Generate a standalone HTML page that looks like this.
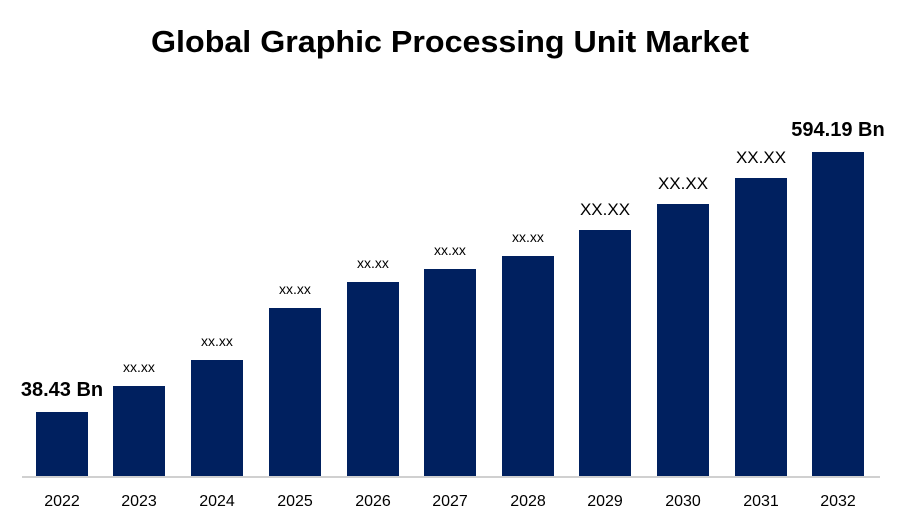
<!DOCTYPE html>
<html><head><meta charset="utf-8"><style>
body{margin:0;background:#fff;}
svg{display:block;font-family:"Liberation Sans",Arial,sans-serif;}
</style></head><body>
<svg width="900" height="525" viewBox="0 0 900 525">
<text x="450" y="52" text-anchor="middle" font-size="31" font-weight="bold" fill="#000" textLength="598" lengthAdjust="spacingAndGlyphs">Global Graphic Processing Unit Market</text>
<line x1="22" y1="477" x2="880" y2="477" stroke="#d0d0d0" stroke-width="2"/>
<g fill="#00205f">
<rect x="36" y="412" width="52" height="64"/>
<rect x="113" y="386" width="52" height="90"/>
<rect x="191" y="360" width="52" height="116"/>
<rect x="269" y="308" width="52" height="168"/>
<rect x="347" y="282" width="52" height="194"/>
<rect x="424" y="269" width="52" height="207"/>
<rect x="502" y="256" width="52" height="220"/>
<rect x="579" y="230" width="52" height="246"/>
<rect x="657" y="204" width="52" height="272"/>
<rect x="735" y="178" width="52" height="298"/>
<rect x="812" y="152" width="52" height="324"/>
</g>
<g font-size="14" text-anchor="middle" fill="#000">
<text x="139" y="372">xx.xx</text>
<text x="217" y="346">xx.xx</text>
<text x="295" y="294">xx.xx</text>
<text x="373" y="268">xx.xx</text>
<text x="450" y="255">xx.xx</text>
<text x="528" y="242">xx.xx</text>
</g>
<g font-size="17" text-anchor="middle" fill="#000">
<text x="605" y="215">XX.XX</text>
<text x="683" y="189">XX.XX</text>
<text x="761" y="163">XX.XX</text>
</g>
<text x="62" y="396" font-size="20" font-weight="bold" text-anchor="middle">38.43 Bn</text>
<text x="838" y="136" font-size="20" font-weight="bold" text-anchor="middle">594.19 Bn</text>
<g font-size="16" text-anchor="middle" fill="#000">
<text x="62" y="506">2022</text><text x="139" y="506">2023</text><text x="217" y="506">2024</text>
<text x="295" y="506">2025</text><text x="373" y="506">2026</text><text x="450" y="506">2027</text>
<text x="528" y="506">2028</text><text x="605" y="506">2029</text><text x="683" y="506">2030</text>
<text x="761" y="506">2031</text><text x="838" y="506">2032</text>
</g>
</svg>
</body></html>
